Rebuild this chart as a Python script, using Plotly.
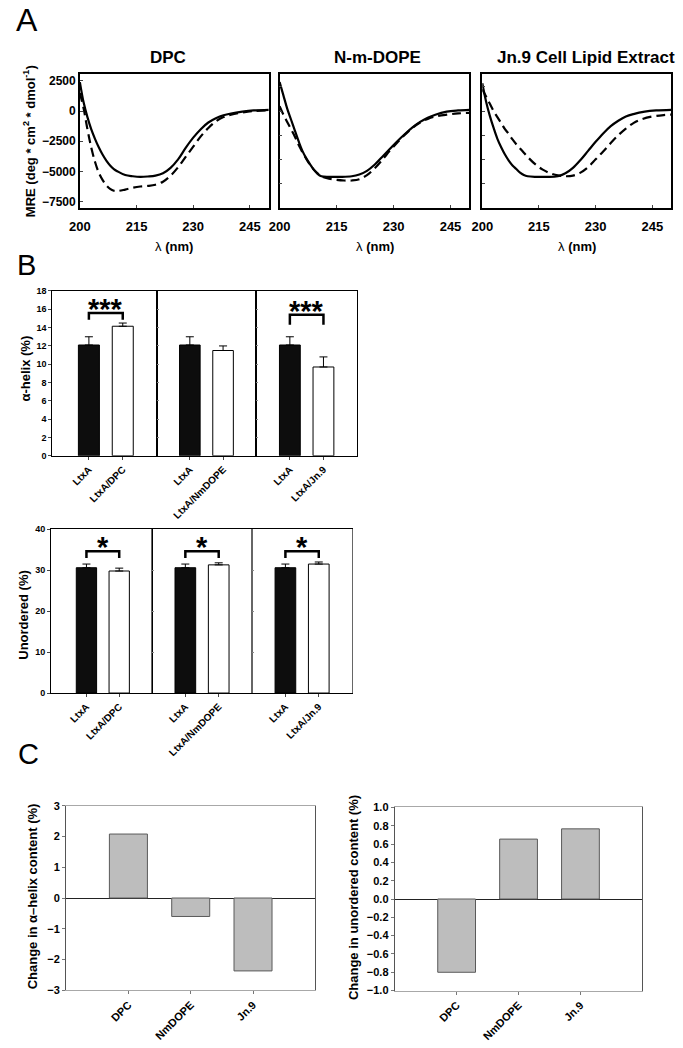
import plotly.graph_objects as go

W, H = 683, 1048
FONT = "Arial, 'Liberation Sans', sans-serif"


def fx(px):
    return px / W


def fy(py):
    return 1 - py / H


# ---------------- Panel A data (CD spectra) ----------------
wl_dpc_solid = [200, 201, 202, 203, 204, 205, 206, 207, 208, 209, 210, 212, 214, 216, 218, 220, 222, 224, 226, 228, 230, 232, 234, 236, 238, 240, 243, 246, 250]
mre_dpc_solid = [2400, 700, -500, -1500, -2300, -3000, -3600, -4100, -4500, -4800, -5000, -5300, -5400, -5450, -5420, -5350, -5150, -4700, -4000, -3050, -2200, -1500, -950, -600, -350, -200, -50, 50, 100]

wl_dpc_dash = [200, 201, 202, 203, 204, 205, 206, 207, 208, 209, 210, 212, 214, 216, 218, 220, 222, 224, 226, 228, 230, 232, 234, 236, 238, 240, 243, 246, 250]
mre_dpc_dash = [1500, 200, -1500, -3000, -4200, -5100, -5700, -6150, -6450, -6600, -6620, -6500, -6350, -6250, -6200, -6100, -5850, -5350, -4650, -3800, -2950, -2100, -1400, -850, -500, -300, -120, 0, 50]

wl_nm_solid = [200, 201, 202, 203, 204, 205, 206, 207, 208, 209, 210, 211, 213, 216, 219, 221, 223, 225, 227, 229, 231, 233, 235, 237, 239, 241, 244, 247, 250]
mre_nm_solid = [2400, 1300, 200, -700, -1600, -2500, -3300, -3900, -4400, -4850, -5200, -5400, -5450, -5450, -5400, -5250, -4950, -4450, -3800, -3150, -2500, -1900, -1350, -900, -550, -300, -50, 50, 100]

wl_nm_dash = [200, 201, 202, 203, 204, 205, 206, 207, 208, 209, 210, 211, 213, 215, 217, 219, 221, 223, 225, 227, 229, 231, 233, 235, 237, 239, 241, 244, 247, 250]
mre_nm_dash = [400, -300, -900, -1500, -2100, -2800, -3400, -3950, -4450, -4850, -5150, -5400, -5600, -5700, -5750, -5750, -5650, -5300, -4750, -4050, -3300, -2600, -1950, -1400, -950, -650, -450, -300, -200, -150]

wl_jn_solid = [200, 201, 202, 203, 204, 205, 206, 207, 208, 209, 210, 211, 212, 214, 217, 220, 222, 224, 226, 228, 230, 232, 234, 236, 238, 240, 243, 246, 250]
mre_jn_solid = [2300, 800, -400, -1400, -2300, -3000, -3600, -4100, -4500, -4800, -5100, -5300, -5400, -5450, -5450, -5400, -5150, -4700, -4050, -3300, -2550, -1850, -1250, -800, -450, -250, -50, 50, 100]

wl_jn_dash = [200, 201, 202, 203, 204, 205, 206, 207, 208, 209, 210, 211, 212, 214, 216, 218, 220, 222, 224, 226, 228, 230, 232, 234, 236, 238, 240, 242, 245, 248, 250]
mre_jn_dash = [1800, 1200, 600, 0, -500, -1000, -1500, -1900, -2350, -2750, -3100, -3450, -3800, -4400, -4850, -5150, -5330, -5400, -5350, -5100, -4650, -4000, -3350, -2650, -2000, -1450, -1000, -700, -450, -330, -300]

cd_titles = ["DPC", "N-m-DOPE", "Jn.9 Cell Lipid Extract"]
cd_x_ticks = [200, 215, 230, 245]
cd_y_ticks = [2500, 0, -2500, -5000, -7500]

# ---------------- Panel B data ----------------
b_groups = [["LtxA", "LtxA/DPC"], ["LtxA", "LtxA/NmDOPE"], ["LtxA", "LtxA/Jn.9"]]
helix_vals = [[12.1, 14.15], [12.1, 11.5], [12.1, 9.7]]
helix_errs = [[0.9, 0.35], [0.9, 0.5], [0.9, 1.1]]
helix_sig = ["***", "", "***"]
helix_bracket_top = [15.6, None, 15.4]
helix_bracket_leg = [14.85, None, 14.3]

unord_vals = [[30.6, 29.8], [30.6, 31.3], [30.6, 31.5]]
unord_errs = [[0.9, 0.7], [0.9, 0.5], [0.9, 0.5]]
unord_sig = ["*", "*", "*"]
unord_bracket_top = [34.6, 34.6, 34.6]
unord_bracket_leg = [33.0, 33.0, 33.0]

# ---------------- Panel C data ----------------
c_cats = ["DPC", "NmDOPE", "Jn.9"]
c_helix_change = [2.08, -0.60, -2.37]
c_unord_change = [-0.80, 0.654, 0.766]

fig = go.Figure()
layout = dict(
    width=W, height=H, margin=dict(l=0, r=0, t=0, b=0),
    paper_bgcolor="white", plot_bgcolor="white", showlegend=False,
    font=dict(family=FONT, color="black"),
)
annotations = []
shapes = []

# ---------------- Panel A ----------------
a_xdom = [(70, 262), (273, 466), (479, 671)]
a_ydom = (69, 204)
a_title_x = [160, 373, 584]
a_curves = [
    (wl_dpc_solid, mre_dpc_solid, wl_dpc_dash, mre_dpc_dash),
    (wl_nm_solid, mre_nm_solid, wl_nm_dash, mre_nm_dash),
    (wl_jn_solid, mre_jn_solid, wl_jn_dash, mre_jn_dash),
]
for i in range(3):
    n = i + 1
    xs = "x" if n == 1 else f"x{n}"
    ys = "y" if n == 1 else f"y{n}"
    xk = "xaxis" if n == 1 else f"xaxis{n}"
    yk = "yaxis" if n == 1 else f"yaxis{n}"
    ws, ms, wd, md = a_curves[i]
    fig.add_trace(go.Scatter(x=wd, y=md, mode="lines", xaxis=xs, yaxis=ys,
                             line=dict(color="black", width=2.2, dash="9px,5px", shape="spline"),
                             hoverinfo="skip"))
    fig.add_trace(go.Scatter(x=ws, y=ms, mode="lines", xaxis=xs, yaxis=ys,
                             line=dict(color="black", width=2.2, shape="spline"),
                             hoverinfo="skip"))
    layout[xk] = dict(domain=[fx(a_xdom[i][0]), fx(a_xdom[i][1])], anchor=ys,
                      range=[200, 250], tickvals=cd_x_ticks, ticks="inside", ticklen=3,
                      showline=True, mirror=True, linecolor="black", linewidth=1.5,
                      showgrid=False, zeroline=False, ticklabelstandoff=6,
                      tickfont=dict(size=13, weight="bold", family=FONT))
    ydict = dict(domain=[fy(a_ydom[1]), fy(a_ydom[0])], anchor=xs,
                 range=[-8000, 3050], ticks="inside", ticklen=3,
                 showline=True, mirror=True, linecolor="black", linewidth=1.5,
                 showgrid=False, zeroline=False,
                 tickfont=dict(size=12, weight="bold", family=FONT))
    if n == 1:
        ydict.update(tickvals=cd_y_ticks)
    else:
        ydict.update(dtick=2000, showticklabels=False)
    layout[yk] = ydict
    cx = (a_xdom[i][0] + a_xdom[i][1]) / 2
    annotations.append(dict(text=f"<b>{cd_titles[i]}</b>", x=fx(a_title_x[i]), y=fy(52), xref="paper",
                            yref="paper", showarrow=False, font=dict(size=17, family=FONT),
                            xanchor="center", yanchor="middle"))
    annotations.append(dict(text="λ <b>(nm)</b>", x=fx(cx), y=fy(243), xref="paper", yref="paper",
                            showarrow=False, font=dict(size=13, family=FONT), xanchor="center", yanchor="middle"))

annotations.append(dict(text="<b>MRE (deg * cm<sup>2</sup> * dmol<sup>-1</sup>)</b>", x=fx(19), y=fy(137),
                        xref="paper", yref="paper", showarrow=False, textangle=-90,
                        font=dict(size=13, family=FONT), xanchor="center", yanchor="middle"))

# ---------------- Panel B ----------------
def bar_block(start_idx, xdoms, ydom, vals, errs, ymax, dtick, sig, btop, bleg, ytitle, ytitle_pos,
              star_off, linecol):
    for i in range(3):
        n = start_idx + i
        xs, ys = f"x{n}", f"y{n}"
        fig.add_trace(go.Bar(x=[0, 1], y=vals[i], xaxis=xs, yaxis=ys, width=0.62,
                             marker=dict(color=["#0d0d0d", "white"], line=dict(color="black", width=1)),
                             error_y=dict(type="data", symmetric=False, array=errs[i], arrayminus=[0, 0],
                                          color="black", thickness=1, width=4),
                             hoverinfo="skip"))
        xr = [-1.08, 2.0] if i == 0 else [-1.0, 2.0]
        layout[f"xaxis{n}"] = dict(domain=[fx(xdoms[i][0]), fx(xdoms[i][1])], anchor=ys, range=xr,
                                   tickvals=[0, 1], ticktext=b_groups[i], tickangle=-45,
                                   ticks="outside", ticklen=3, showline=True, mirror=True,
                                   linecolor="black", linewidth=1, showgrid=False, zeroline=False,
                                   tickfont=dict(size=10, weight="bold", family=FONT))
        yd = dict(domain=[fy(ydom[1]), fy(ydom[0])], anchor=xs, range=[0, ymax], dtick=dtick,
                  showline=True, mirror=True, linecolor=linecol if i > 0 else "black", linewidth=1,
                  showgrid=False, zeroline=False,
                  tickfont=dict(size=9, weight="bold", family=FONT))
        if i == 0:
            yd.update(ticks="outside", ticklen=3)
        else:
            yd.update(showticklabels=False, ticks="inside", ticklen=2, tickcolor="#888")
        layout[f"yaxis{n}"] = yd
        if sig[i]:
            shapes.append(dict(type="path", xref=xs, yref=ys,
                               path=f"M 0,{bleg[i]} L 0,{btop[i]} L 1,{btop[i]} L 1,{bleg[i]}",
                               line=dict(color="black", width=2.5)))
            annotations.append(dict(text=f"<b>{sig[i]}</b>", x=0.5, y=btop[i], xref=xs, yref=ys,
                                    showarrow=False, yanchor="bottom", xanchor="center", yshift=star_off,
                                    font=dict(size=29, family=FONT)))
    annotations.append(dict(text=ytitle, x=fx(ytitle_pos[0]), y=fy(ytitle_pos[1]), xref="paper", yref="paper",
                            showarrow=False, textangle=-90, font=dict(size=13, family=FONT),
                            xanchor="center", yanchor="middle"))


bar_block(4, [(42, 148), (148, 249.3), (249.3, 351.7)], (288.3, 455), helix_vals, helix_errs, 18, 2,
          helix_sig, helix_bracket_top, helix_bracket_leg, "<b>α-helix (%)</b>", (15, 367), -14, "black")
bar_block(7, [(40.7, 143.3), (143.3, 245), (245, 346.7)], (529.3, 695), unord_vals, unord_errs, 40, 10,
          unord_sig, unord_bracket_top, unord_bracket_leg, "<b>Unordered (%)</b>", (13, 616), -14, "#666")

# ---------------- Panel C ----------------
c_specs = [
    (10, (56, 309.3), (809, 995.7), c_helix_change, [-3, 3], 1, None,
     "<b>Change in α–helix content (%)</b>", (22, 901)),
    (11, (390, 641.7), (810.7, 996), c_unord_change, [-1, 1], 0.2, ".1f",
     "<b>Change in unordered content (%)</b>", (348, 902)),
]
for n, xdom, ydom, vals, yr, dt, fmt, title, tpos in c_specs:
    xs, ys = f"x{n}", f"y{n}"
    fig.add_trace(go.Bar(x=[0, 1, 2], y=vals, xaxis=xs, yaxis=ys, width=0.61,
                         marker=dict(color="#bdbdbd", line=dict(color="#5a5a5a", width=1)),
                         hoverinfo="skip"))
    layout[f"xaxis{n}"] = dict(domain=[fx(xdom[0]), fx(xdom[1])], anchor=ys, range=[-1, 3],
                               tickvals=[0, 1, 2], ticktext=c_cats, tickangle=-45,
                               ticks="outside", ticklen=3, tickcolor="#777",
                               showline=True, mirror=True, linecolor="#a8a8a8", linewidth=1,
                               showgrid=False, zeroline=False,
                               tickfont=dict(size=11, weight="bold", family=FONT))
    yd = dict(domain=[fy(ydom[1]), fy(ydom[0])], anchor=xs, range=yr, dtick=dt,
              ticks="outside", ticklen=3, tickcolor="#777",
              showline=True, mirror=True, linecolor="#555", linewidth=1,
              showgrid=False, zeroline=True, zerolinecolor="#222", zerolinewidth=1,
              tickfont=dict(size=11, weight="bold", family=FONT))
    if fmt:
        yd["tickformat"] = fmt
    layout[f"yaxis{n}"] = yd
    annotations.append(dict(text=title, x=fx(tpos[0]), y=fy(tpos[1]), xref="paper", yref="paper",
                            showarrow=False, textangle=-90, font=dict(size=13, family=FONT),
                            xanchor="center", yanchor="middle"))

# panel letters
for letter, px, py, sz in [("A", 3, 14, 32), ("B", 4, 262, 29), ("C", 5, 757, 29)]:
    annotations.append(dict(text=letter, x=fx(px), y=fy(py), xref="paper", yref="paper", showarrow=False,
                            xanchor="left", yanchor="middle", font=dict(size=sz, family=FONT)))

layout["annotations"] = annotations
layout["shapes"] = shapes
fig.update_layout(**layout)
fig.write_html("out.html", config={"displayModeBar": False},
               post_script="document.body.style.margin='0';document.body.style.overflow='hidden';")
